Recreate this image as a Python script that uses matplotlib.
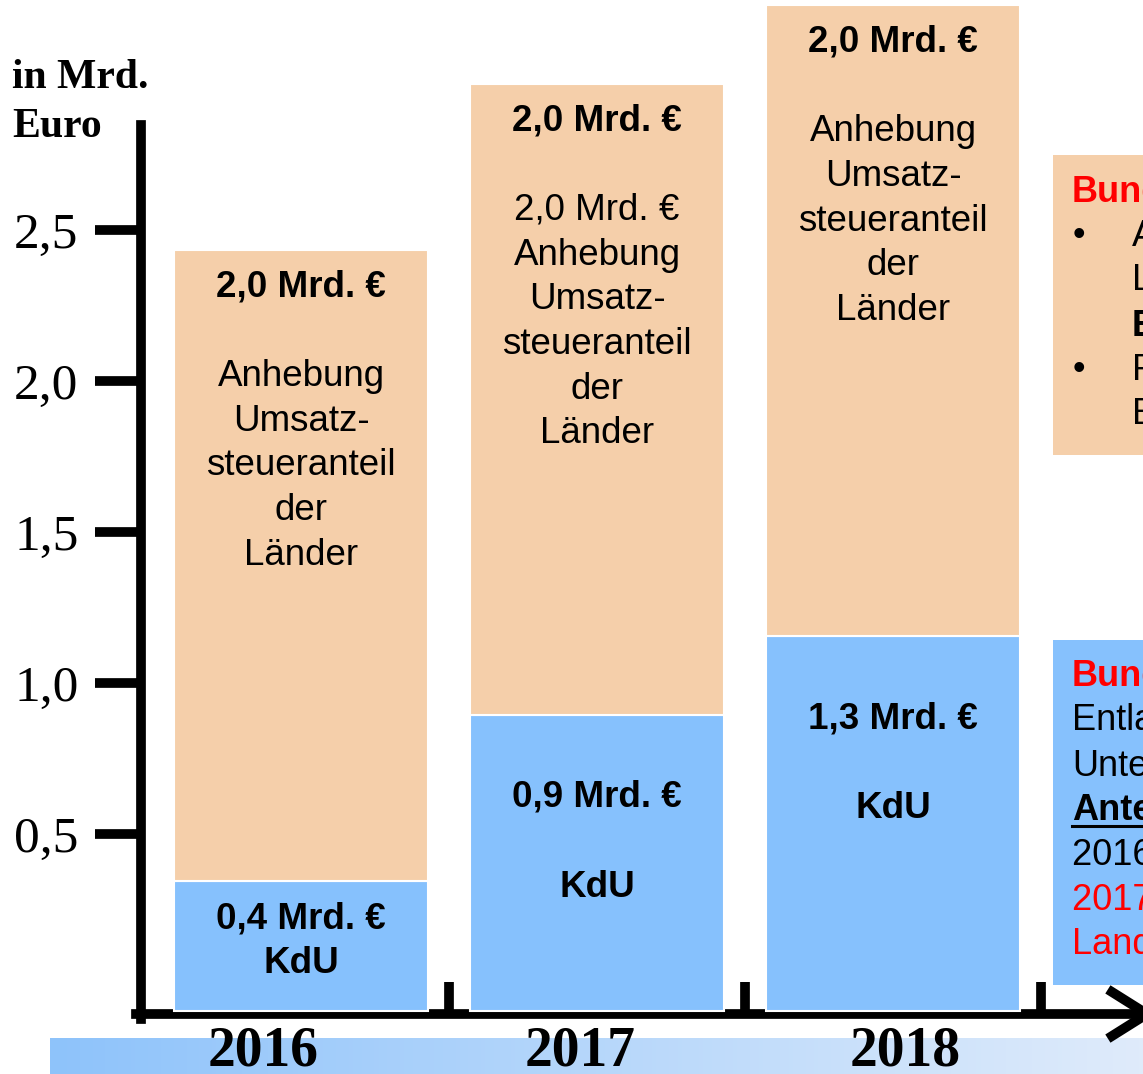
import matplotlib
matplotlib.use("Agg")
import matplotlib.pyplot as plt
import numpy as np
from matplotlib.transforms import Affine2D
from matplotlib.colors import LinearSegmentedColormap

W, H = 1143, 1074

years = ["2016", "2017", "2018"]
kdu_labels = ["0,4 Mrd. €", "0,9 Mrd. €", "1,3 Mrd. €"]
ust_labels = ["2,0 Mrd. €", "2,0 Mrd. €", "2,0 Mrd. €"]
# Höhen der Balkenteile so wie im Schaubild gezeichnet (Achseneinheiten)
kdu_height = [0.43, 0.98, 1.24]
ust_height = [2.09, 2.09, 2.09]
base = -0.086
ust_text = [
    ["Anhebung", "Umsatz-", "steueranteil", "der", "Länder"],
    ["2,0 Mrd. €", "Anhebung", "Umsatz-", "steueranteil", "der", "Länder"],
    ["Anhebung", "Umsatz-", "steueranteil", "der", "Länder"],
]
y_ticks = [0.5, 1.0, 1.5, 2.0, 2.5]
y_ticklabels = ["0,5", "1,0", "1,5", "2,0", "2,5"]

TAN = "#F5CFAA"
BLUE = "#86C1FD"
SANS = "Liberation Sans"
SERIF = "Liberation Serif"

fig = plt.figure(figsize=(W / 100, H / 100), dpi=100)
# Pixel-Koordinaten (oben links = 0,0) für Beschriftungen
pix = Affine2D().scale(1 / W, -1 / H).translate(0, 1) + fig.transFigure

ax = fig.add_axes([0, 0, 1, 1])
ax.patch.set_alpha(0)
ax.set_xlim(-301 / 296, (W - 301) / 296)
ax.set_ylim((985 - H) / 302, 985 / 302)

x = np.arange(len(years))
ax.bar(x, kdu_height, width=0.858, bottom=base, color=BLUE,
       edgecolor="white", linewidth=1.5, zorder=3)
ust_bottom = [base + h for h in kdu_height]
ax.bar(x, ust_height, width=0.858, bottom=ust_bottom, color=TAN,
       edgecolor="white", linewidth=1.5, zorder=3)

# Achsen
for side in ["top", "right"]:
    ax.spines[side].set_visible(False)
ax.spines["left"].set_position(("data", (141 - 301) / 296))
ax.spines["left"].set_bounds((985 - 1019) / 302, (985 - 125) / 302)
ax.spines["bottom"].set_position(("data", (985 - 1014) / 302))
ax.spines["bottom"].set_bounds((136 - 301) / 296, (1140 - 301) / 296)
for side in ["left", "bottom"]:
    ax.spines[side].set_linewidth(7)

ax.set_yticks(y_ticks, y_ticklabels)
ax.tick_params(axis="y", direction="out", length=33, width=7, pad=12,
               labelsize=37)
for lab in ax.get_yticklabels():
    lab.set_fontfamily(SERIF)
ax.set_xticks([0.5, 1.5, 2.5])
ax.tick_params(axis="x", direction="in", length=23, width=7,
               labelbottom=False)

# Pfeilspitze
ax.plot([1112, 1147, 1112], [992, 1014, 1036], color="black", lw=7,
        solid_joinstyle="miter", transform=pix, clip_on=False, zorder=4)

# Farbverlauf unten
grad = LinearSegmentedColormap.from_list("g", ["#8EC3FA", "#DFEBFA"])
ax.imshow(np.linspace(0, 1, 256)[None, :], cmap=grad, aspect="auto",
          extent=((50 - 301) / 296, (W - 301) / 296,
                  (985 - 1074) / 302, (985 - 1038) / 302), zorder=1)
ax.set_xlim(-301 / 296, (W - 301) / 296)
ax.set_ylim((985 - H) / 302, 985 / 302)

year_x_px = [263, 580, 905]
for xp, yr in zip(year_x_px, years):
    fig.text(xp, 1052, yr, transform=pix, ha="center", va="center",
             fontsize=40, fontweight="bold", family=SERIF, zorder=5)

fig.text(12, 88, "in Mrd.", transform=pix, ha="left", va="baseline",
         fontsize=30, fontweight="bold", family=SERIF)
fig.text(12, 137, "Euro", transform=pix, ha="left", va="baseline",
         fontsize=30, fontweight="bold", family=SERIF)

def put(i, top, dy_px, s, bold):
    ax.annotate(s, xy=(i, top), xytext=(0, -dy_px * 0.72),
                textcoords="offset points", ha="center",
                va="center_baseline", fontsize=26.5, family=SANS,
                fontweight="bold" if bold else "normal", zorder=6)

ust_top = [b + h for b, h in zip(ust_bottom, ust_height)]
kdu_top = [base + h for h in kdu_height]
kdu_offsets = [[34, 78], [78, 168], [79, 168]]
for i in range(len(years)):
    put(i, ust_top[i], 33, ust_labels[i], True)
    for k, line in enumerate(ust_text[i]):
        put(i, ust_top[i], 122.5 + 44.7 * k, line, False)
    put(i, kdu_top[i], kdu_offsets[i][0], kdu_labels[i], True)
    put(i, kdu_top[i], kdu_offsets[i][1], "KdU", True)

# Textkästen rechts
ax.add_patch(plt.Rectangle((1053, 155), 200, 300, transform=pix,
                           facecolor=TAN, edgecolor="none", clip_on=False,
                           zorder=2))
ax.add_patch(plt.Rectangle((1053, 640), 200, 345, transform=pix,
                           facecolor=BLUE, edgecolor="none", clip_on=False,
                           zorder=2))

def box_text(xp, yp, s, color="black", bold=False):
    fig.text(xp, yp, s, transform=pix, ha="left", va="center_baseline",
             fontsize=26, family=SANS, color=color,
             fontweight="bold" if bold else "normal", zorder=6)

box_text(1072, 188, "Bund:", color="red", bold=True)
box_text(1073, 232, "•")
box_text(1073, 366, "•")
box_text(1132, 232, "Anteil der")
box_text(1132, 277, "Länder an der USt")
box_text(1132, 322, "Erhöhung um 2 Mrd.", bold=True)
box_text(1132, 366, "Festbetrag")
box_text(1132, 411, "Euro")

box_text(1072, 672, "Bund:", color="red", bold=True)
box_text(1072, 717, "Entlastung der Kommunen")
box_text(1072, 762, "Unterkunftskosten")
box_text(1072, 806, "Anteil:", bold=True)
ax.plot([1072, 1150], [826, 826], color="black", lw=2.2, transform=pix,
        clip_on=False, zorder=6)
box_text(1072, 851, "2016: 0,4 Mrd. €")
box_text(1072, 896, "2017: 0,9 Mrd. €", color="red")
box_text(1072, 940, "Landkreise", color="red")

fig.savefig("out.png", dpi=100)
